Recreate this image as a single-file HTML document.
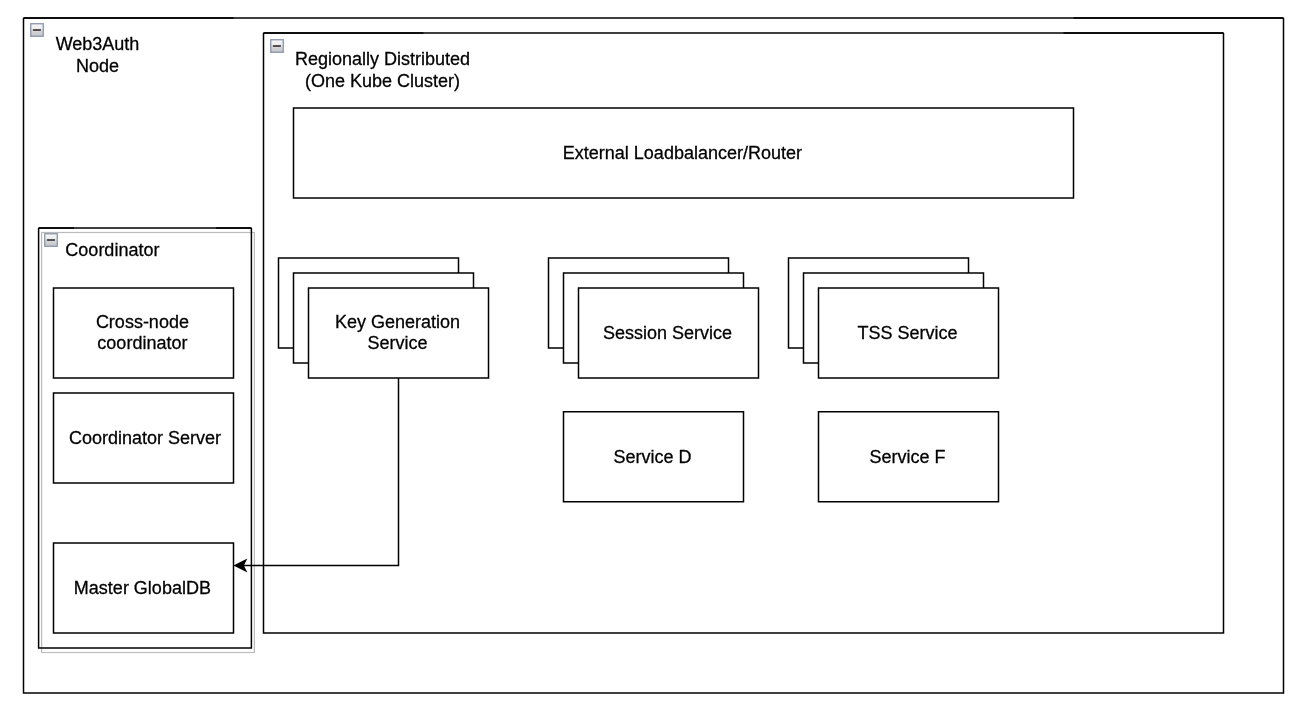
<!DOCTYPE html>
<html><head><meta charset="utf-8"><title>Web3Auth Node</title>
<style>
html,body{margin:0;padding:0;background:#fff;}
svg{display:block;will-change:transform}
text{font-family:"Liberation Sans",sans-serif;font-size:18px;fill:#000;stroke:#000;stroke-width:0.28px;text-anchor:middle}
</style></head><body>
<svg width="1302" height="708" viewBox="0 0 1302 708">
<defs><linearGradient id="ig" x1="0" y1="0" x2="0" y2="1"><stop offset="0" stop-color="#f6f6f6"/><stop offset="0.42" stop-color="#ececec"/><stop offset="0.6" stop-color="#d6d6d8"/><stop offset="1" stop-color="#c6c6ca"/></linearGradient></defs>
<rect x="0" y="0" width="1302" height="708" fill="#fff"/>
<path d="M23.5 18V693H1283.5V18M23.5 18H1283.5" fill="none" stroke="#000" stroke-width="1.5"/><path d="M23.5 18H233.5M1073.5 18H1283.5" fill="none" stroke="#000" stroke-width="1.5"/>
<path d="M263.5 33V633H1223.5V33M263.5 33H1223.5" fill="none" stroke="#000" stroke-width="1.5"/><path d="M263.5 33H423.5M1063.5 33H1223.5" fill="none" stroke="#000" stroke-width="1.5"/>
<rect x="41.6" y="232.5" width="212.8" height="420" fill="none" stroke="#bcbcbc" stroke-width="1.2"/><path d="M38.6 228V648H251.4V228M38.6 228H251.4" fill="none" stroke="#000" stroke-width="1.5"/><path d="M38.6 228H74.07M215.93 228H251.4" fill="none" stroke="#000" stroke-width="1.5"/>
<rect x="293.5" y="108" width="780" height="90" fill="#fff" stroke="#000" stroke-width="1.5"/>
<rect x="53.5" y="288" width="180" height="90" fill="#fff" stroke="#000" stroke-width="1.5"/>
<rect x="53.5" y="393" width="180" height="90" fill="#fff" stroke="#000" stroke-width="1.5"/>
<rect x="53.5" y="543" width="180" height="90" fill="#fff" stroke="#000" stroke-width="1.5"/>
<rect x="278.5" y="258" width="180" height="90" fill="#fff" stroke="#000" stroke-width="1.5"/>
<rect x="293.5" y="273" width="180" height="90" fill="#fff" stroke="#000" stroke-width="1.5"/>
<rect x="308.5" y="288" width="180" height="90" fill="#fff" stroke="#000" stroke-width="1.5"/>
<rect x="548.5" y="258" width="180" height="90" fill="#fff" stroke="#000" stroke-width="1.5"/>
<rect x="563.5" y="273" width="180" height="90" fill="#fff" stroke="#000" stroke-width="1.5"/>
<rect x="578.5" y="288" width="180" height="90" fill="#fff" stroke="#000" stroke-width="1.5"/>
<rect x="788.5" y="258" width="180" height="90" fill="#fff" stroke="#000" stroke-width="1.5"/>
<rect x="803.5" y="273" width="180" height="90" fill="#fff" stroke="#000" stroke-width="1.5"/>
<rect x="818.5" y="288" width="180" height="90" fill="#fff" stroke="#000" stroke-width="1.5"/>
<rect x="563.5" y="411.75" width="180" height="90" fill="#fff" stroke="#000" stroke-width="1.5"/>
<rect x="818.5" y="411.75" width="180" height="90" fill="#fff" stroke="#000" stroke-width="1.5"/>
<path d="M398.5 378V565.5H243" fill="none" stroke="#000" stroke-width="1.5"/>
<path d="M235.18 565.5L245.68 560.25L243.05 565.5L245.68 570.75Z" fill="#000" stroke="#000" stroke-width="1.5" stroke-linejoin="miter"/>
<g transform="translate(30,23)"><rect x="0.1" y="0.1" width="13.8" height="13.8" fill="#8994ab"/><rect x="1.4" y="1.4" width="11.2" height="11.2" fill="url(#ig)"/><rect x="2.7" y="6.15" width="8.4" height="1.65" rx="0.7" fill="#202020"/></g>
<g transform="translate(270,39)"><rect x="0.1" y="0.1" width="13.8" height="13.8" fill="#8994ab"/><rect x="1.4" y="1.4" width="11.2" height="11.2" fill="url(#ig)"/><rect x="2.7" y="6.15" width="8.4" height="1.65" rx="0.7" fill="#202020"/></g>
<g transform="translate(44,233)"><rect x="0.1" y="0.1" width="13.8" height="13.8" fill="#8994ab"/><rect x="1.4" y="1.4" width="11.2" height="11.2" fill="url(#ig)"/><rect x="2.7" y="6.15" width="8.4" height="1.65" rx="0.7" fill="#202020"/></g>
<text x="97.5" y="50">Web3Auth</text>
<text x="97.5" y="72">Node</text>
<text x="382.5" y="65">Regionally Distributed</text>
<text x="382.5" y="86.5">(One Kube Cluster)</text>
<text x="112.4" y="256">Coordinator</text>
<text x="682.4" y="159">External Loadbalancer/Router</text>
<text x="142.4" y="327.5">Cross-node</text>
<text x="142.4" y="348.5">coordinator</text>
<text x="145" y="444">Coordinator Server</text>
<text x="142.4" y="594">Master GlobalDB</text>
<text x="397.5" y="328">Key Generation</text>
<text x="397.5" y="348.6">Service</text>
<text x="667.5" y="339">Session Service</text>
<text x="907.5" y="339">TSS Service</text>
<text x="652.5" y="463">Service D</text>
<text x="907.4" y="463">Service F</text>
</svg>
</body></html>
